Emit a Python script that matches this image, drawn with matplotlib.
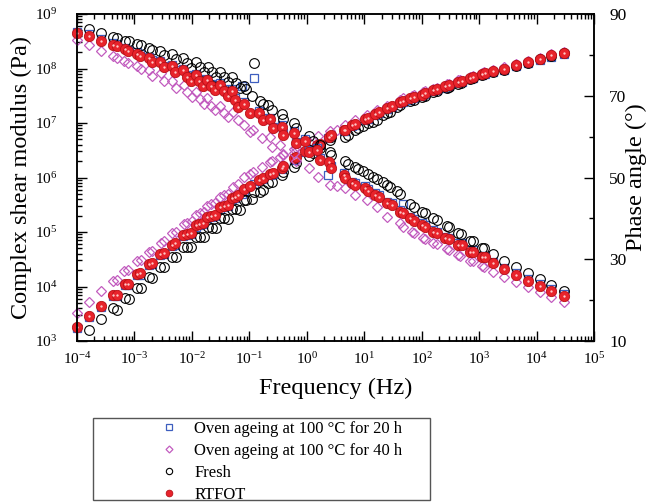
import numpy as np
import matplotlib.pyplot as plt
from matplotlib.patches import Rectangle
from matplotlib.ticker import LogLocator, FixedLocator, NullFormatter

plt.rcParams['font.family'] = ['Liberation Serif', 'DejaVu Serif']
plt.rcParams['mathtext.fontset'] = 'stix'

# ---- data (log10 frequency, log10 modulus, phase angle) ----
rtfot_logf = [-4.00, -3.79, -3.59, -3.38, -3.31, -3.16, -3.11, -2.96, -2.90, -2.75,
              -2.70, -2.55, -2.49, -2.35, -2.29, -2.15, -2.08, -2.02, -1.93, -1.87,
              -1.80, -1.73, -1.66, -1.59, -1.51, -1.44, -1.38, -1.31, -1.25, -1.19,
              -1.10, -0.99, -0.84, -0.77, -0.64, -0.59, -0.44, -0.41, -0.23, -0.18,
              -0.03, 0.03, 0.18, 0.23, 0.39, 0.43, 0.64, 0.67, 0.78, 0.84,
              1.01, 1.07, 1.19, 1.25, 1.39, 1.48, 1.62, 1.68, 1.80, 1.86,
              2.00, 2.06, 2.20, 2.26, 2.41, 2.48, 2.64, 2.70, 2.84, 2.89,
              3.05, 3.10, 3.24, 3.44, 3.64, 3.85, 4.06, 4.26, 4.47]
rtfot_logG = [3.26, 3.46, 3.65, 3.84, 3.85, 4.04, 4.05, 4.23, 4.24, 4.42,
              4.43, 4.60, 4.61, 4.76, 4.79, 4.94, 4.96, 4.99, 5.12, 5.14,
              5.16, 5.28, 5.30, 5.32, 5.45, 5.47, 5.49, 5.62, 5.64, 5.67,
              5.78, 5.84, 5.95, 5.99, 6.06, 6.09, 6.18, 6.21, 6.35, 6.38,
              6.48, 6.50, 6.60, 6.62, 6.74, 6.78, 6.87, 6.88, 6.96, 6.99,
              7.07, 7.10, 7.17, 7.20, 7.27, 7.31, 7.38, 7.41, 7.45, 7.47,
              7.52, 7.55, 7.60, 7.62, 7.67, 7.69, 7.75, 7.77, 7.83, 7.85,
              7.90, 7.91, 7.95, 8.00, 8.07, 8.12, 8.18, 8.24, 8.29]
rtfot_phase = [85.3, 84.6, 83.5, 82.4, 82.2, 81.4, 80.9, 80.2, 79.7, 79.2,
               78.3, 78.2, 77.0, 77.2, 75.9, 76.2, 74.7, 73.6, 75.0, 73.6,
               72.5, 73.8, 72.4, 71.3, 72.6, 71.2, 70.0, 71.2, 69.0, 67.3,
               68.0, 65.7, 65.9, 64.1, 64.2, 62.0, 62.4, 60.4, 61.0, 58.4,
               58.9, 56.3, 56.7, 54.3, 53.9, 52.3, 50.6, 49.8, 48.6, 48.2,
               47.4, 46.8, 45.7, 45.3, 43.7, 43.3, 41.6, 41.2, 40.0, 39.4,
               38.4, 38.0, 36.7, 36.3, 35.1, 34.9, 33.5, 33.5, 31.8, 31.8,
               30.5, 30.5, 29.0, 27.5, 26.2, 24.8, 23.5, 22.3, 21.0]

oven20_logf = [-4.00, -3.79, -3.59, -3.38, -3.31, -3.16, -3.11, -2.96, -2.90, -2.75,
               -2.70, -2.55, -2.49, -2.35, -2.29, -2.15, -2.08, -2.02, -1.93, -1.87,
               -1.80, -1.73, -1.66, -1.59, -1.51, -1.44, -1.38, -1.31, -1.25, -1.12,
               -1.10, -0.92, -0.84, -0.77, -0.64, -0.59, -0.44, -0.41, -0.23, -0.18,
               -0.03, 0.03, 0.18, 0.23, 0.375, 0.43, 0.64, 0.67, 0.78, 0.84,
               1.01, 1.07, 1.19, 1.25, 1.39, 1.48, 1.62, 1.68, 1.80, 1.86,
               2.00, 2.06, 2.20, 2.26, 2.41, 2.48, 2.64, 2.70, 2.84, 2.89,
               3.05, 3.10, 3.24, 3.44, 3.64, 3.85, 4.06, 4.26, 4.47]
oven20_logG = [3.24, 3.44, 3.63, 3.82, 3.83, 4.02, 4.03, 4.21, 4.22, 4.40,
               4.41, 4.58, 4.59, 4.74, 4.77, 4.92, 4.94, 4.97, 5.10, 5.12,
               5.14, 5.26, 5.28, 5.30, 5.43, 5.45, 5.47, 5.60, 5.62, 5.70,
               5.76, 5.88, 5.93, 5.97, 6.04, 6.07, 6.16, 6.19, 6.33, 6.36,
               6.46, 6.48, 6.58, 6.60, 6.72, 6.76, 6.85, 6.86, 6.94, 6.97,
               7.05, 7.08, 7.15, 7.18, 7.25, 7.29, 7.36, 7.39, 7.43, 7.45,
               7.50, 7.53, 7.58, 7.60, 7.65, 7.67, 7.73, 7.75, 7.81, 7.83,
               7.88, 7.89, 7.93, 7.98, 8.05, 8.10, 8.16, 8.22, 8.27]
oven20_phase = [85.7, 85.0, 83.9, 82.8, 82.6, 81.8, 81.3, 80.6, 80.1, 79.6,
                78.7, 78.6, 77.4, 77.6, 76.3, 76.6, 75.1, 74.0, 75.4, 74.0,
                72.9, 74.2, 72.8, 71.7, 73.0, 71.6, 70.4, 71.6, 69.4, 72.4,
                68.4, 74.3, 66.3, 64.5, 64.6, 62.4, 62.8, 60.8, 61.4, 58.8,
                59.3, 56.7, 57.1, 54.7, 50.6, 52.7, 51.0, 50.2, 49.0, 48.6,
                47.8, 47.2, 46.1, 45.7, 44.1, 43.7, 42.0, 43.4, 40.4, 39.8,
                38.8, 38.4, 37.1, 36.7, 35.5, 35.3, 33.9, 33.9, 32.2, 32.2,
                30.9, 30.9, 29.4, 27.9, 26.6, 25.2, 23.9, 22.7, 21.4]

oven40_logf = [-4.00, -3.79, -3.59, -3.38, -3.31, -3.18, -3.11, -2.96, -2.89, -2.75,
               -2.69, -2.54, -2.48, -2.35, -2.28, -2.14, -2.08, -2.00, -1.93, -1.86,
               -1.79, -1.73, -1.66, -1.59, -1.51, -1.44, -1.37, -1.28, -1.19, -1.10,
               -0.99, -0.93, -0.78, -0.64, -0.61, -0.47, -0.41, -0.23, -0.18, 0.03,
               0.20, 0.40, 0.52, 0.67, 0.84, 1.04, 1.22, 1.39, 1.62, 1.68,
               1.83, 1.86, 2.03, 2.06, 2.20, 2.26, 2.44, 2.48, 2.64, 2.67,
               2.84, 2.89, 3.05, 3.09, 3.24, 3.44, 3.64, 3.85, 4.06, 4.26,
               4.47]
oven40_logG = [3.52, 3.72, 3.92, 4.11, 4.12, 4.28, 4.30, 4.47, 4.49, 4.64,
               4.66, 4.80, 4.83, 4.98, 5.00, 5.14, 5.16, 5.20, 5.31, 5.34,
               5.36, 5.48, 5.51, 5.53, 5.64, 5.67, 5.69, 5.83, 5.88, 6.01,
               6.06, 6.10, 6.20, 6.28, 6.30, 6.38, 6.42, 6.52, 6.55, 6.66,
               6.76, 6.85, 6.88, 6.96, 7.06, 7.15, 7.23, 7.32, 7.43, 7.46,
               7.50, 7.51, 7.57, 7.58, 7.63, 7.65, 7.71, 7.72, 7.78, 7.79,
               7.85, 7.86, 7.92, 7.93, 7.97, 8.02, 8.09, 8.14, 8.20, 8.26,
               8.31]
oven40_phase = [83.6, 82.4, 80.9, 79.7, 79.2, 78.6, 77.9, 77.3, 76.5, 76.3,
                74.8, 75.5, 73.6, 73.6, 72.0, 72.6, 70.8, 69.6, 71.0, 69.2,
                68.0, 69.4, 67.6, 66.4, 67.6, 65.9, 64.8, 66.0, 64.0, 62.8,
                61.2, 61.6, 59.6, 60.0, 57.5, 57.9, 55.8, 56.0, 54.0, 52.3,
                50.2, 48.2, 48.0, 47.4, 45.7, 44.5, 42.9, 40.4, 38.8, 38.0,
                36.7, 36.3, 35.1, 34.9, 33.9, 33.7, 32.4, 32.3, 31.0, 30.9,
                29.6, 29.6, 28.3, 28.2, 27.0, 25.6, 24.5, 23.1, 22.1, 20.8,
                19.6]

fresh_logf = [-3.79, -3.59, -3.38, -3.31, -3.16, -3.09, -2.96, -2.89, -2.75, -2.69,
              -2.55, -2.49, -2.35, -2.28, -2.15, -2.08, -2.01, -1.93, -1.86, -1.79,
              -1.72, -1.65, -1.58, -1.51, -1.44, -1.37, -1.30, -1.23, -1.17, -1.10,
              -1.05, -0.96, -0.92, -0.81, -0.76, -0.67, -0.61, -0.44, -0.41, -0.23,
              -0.18, 0.03, 0.10, 0.23, 0.40, 0.43, 0.67, 0.72, 0.84, 0.90,
              0.98, 1.07, 1.16, 1.22, 1.33, 1.39, 1.45, 1.57, 1.62, 1.80,
              1.86, 2.00, 2.06, 2.20, 2.26, 2.44, 2.48, 2.64, 2.68, 2.84,
              2.89, 3.05, 3.09, 3.24, 3.44, 3.64, 3.85, 4.06, 4.26, 4.47]
fresh_logG = [3.20, 3.40, 3.60, 3.57, 3.78, 3.77, 3.98, 3.97, 4.17, 4.16,
              4.36, 4.35, 4.54, 4.54, 4.73, 4.72, 4.72, 4.91, 4.91, 4.90,
              5.09, 5.08, 5.07, 5.25, 5.25, 5.24, 5.42, 5.42, 5.41, 5.59,
              5.59, 5.60, 5.74, 5.74, 5.77, 5.89, 5.92, 6.05, 6.11, 6.20,
              6.26, 6.40, 6.45, 6.55, 6.69, 6.75, 6.74, 6.78, 6.87, 6.90,
              6.94, 7.00, 7.02, 7.05, 7.15, 7.18, 7.21, 7.30, 7.33, 7.40,
              7.42, 7.48, 7.50, 7.56, 7.58, 7.64, 7.66, 7.72, 7.74, 7.80,
              7.82, 7.88, 7.89, 7.93, 7.98, 8.05, 8.10, 8.17, 8.23, 8.28]
fresh_phase = [86.3, 85.3, 84.4, 84.2, 83.5, 83.3, 82.7, 82.4, 81.8, 81.2,
               80.9, 80.0, 80.1, 78.9, 79.2, 77.9, 76.8, 78.2, 77.0, 75.7,
               77.0, 75.8, 74.6, 75.9, 74.6, 73.4, 74.6, 73.2, 72.0, 72.4,
               71.6, 70.0, 77.9, 68.8, 68.0, 67.8, 66.5, 65.6, 64.2, 63.4,
               62.0, 60.2, 59.0, 58.0, 56.3, 55.4, 54.0, 53.3, 52.6, 52.0,
               51.5, 50.8, 50.2, 49.6, 48.9, 48.2, 47.6, 46.6, 46.0, 43.5,
               42.9, 41.6, 41.2, 40.0, 39.6, 38.1, 38.0, 36.3, 36.2, 34.5,
               34.5, 32.8, 32.8, 31.3, 29.6, 28.0, 26.6, 25.1, 23.7, 22.2]

labels = ['Oven ageing at 100 \u00b0C for 20 h', 'Oven ageing at 100 \u00b0C for 40 h',
          'Fresh', 'RTFOT']
phase_ticks = [10, 30, 50, 70, 90]
phase_minor = [20, 40, 60, 80]

fig = plt.figure(figsize=(6.48, 5.04), dpi=100)
ax = fig.add_axes([77 / 648, 1 - 341 / 504, 517 / 648, 327 / 504])
ax2 = ax.twinx()

blue = '#3d5ebf'
magenta = '#c25cbf'
red = '#e8232b'

def draw(logf, logG, phase, **kw):
    f = np.power(10.0, logf)
    h = ax.plot(f, np.power(10.0, logG), ls='none', clip_on=False, **kw)[0]
    ax2.plot(f, phase, ls='none', clip_on=False, **kw)
    return h

h1 = draw(oven20_logf, oven20_logG, oven20_phase, marker='s', ms=5.8, mfc='none', mec=blue, mew=0.9)
h2 = draw(oven40_logf, oven40_logG, oven40_phase, marker='D', ms=5.4, mfc='none', mec=magenta, mew=0.9)
h3 = draw(fresh_logf, fresh_logG, fresh_phase, marker='o', ms=7.0, mfc='none', mec='black', mew=0.8)
h4 = draw(rtfot_logf, rtfot_logG, rtfot_phase, marker='o', ms=7.4, mfc=red, mec='#b81018', mew=0.6)
# small highlight on the red balls
draw(rtfot_logf, rtfot_logG, rtfot_phase, marker='o', ms=1.7, mfc='#ffc8c8', mec='none')

ax.set_xscale('log')
ax.set_yscale('log')
ax.set_xlim(1e-4, 1e5)
ax.set_ylim(1e3, 1e9)
ax2.set_ylim(10, 90)
ax2.yaxis.set_major_locator(FixedLocator(phase_ticks))
ax2.yaxis.set_minor_locator(FixedLocator(phase_minor))

for a in (ax.xaxis, ax.yaxis):
    a.set_major_locator(LogLocator(base=10, numticks=20))
    a.set_minor_locator(LogLocator(base=10, subs=np.arange(2, 10), numticks=20))
    a.set_minor_formatter(NullFormatter())

ax.tick_params(which='both', direction='in', top=True, right=False, labelsize=11, width=1)
ax.tick_params(which='major', length=7)
ax.tick_params(which='minor', length=3.5)
ax.tick_params(axis='x', pad=7)
ax.tick_params(axis='y', pad=14)
ax2.tick_params(which='both', direction='in', labelsize=12.5, width=1, pad=11)
ax2.tick_params(which='major', length=7)
ax2.tick_params(which='minor', length=3.5)

for s in ax.spines.values():
    s.set_linewidth(1.1)
for s in ax2.spines.values():
    s.set_linewidth(1.1)

ax.set_xlabel('Frequency (Hz)', fontsize=17.5, labelpad=8)
ax.set_ylabel('Complex shear modulus (Pa)', fontsize=17.5, labelpad=2)
ax2.set_ylabel('Phase angle (\u00b0)', fontsize=17.5)
ax2.yaxis.set_label_coords((626 - 77) / 517, 0.5)

# legend box
fig.add_artist(Rectangle((93 / 648, 1 - 500 / 504), 337 / 648, 82 / 504,
                         transform=fig.transFigure, fill=False, ec='#555555', lw=1))
fig.legend([h1, h2, h3, h4], labels, loc='upper left',
           bbox_to_anchor=(161 / 648, 1 - 421 / 504), frameon=False,
           fontsize=12, handlelength=1.0, handletextpad=1.0, borderpad=0,
           borderaxespad=0, labelspacing=0.36, markerscale=0.65)

fig.savefig('out.png', dpi=100)
